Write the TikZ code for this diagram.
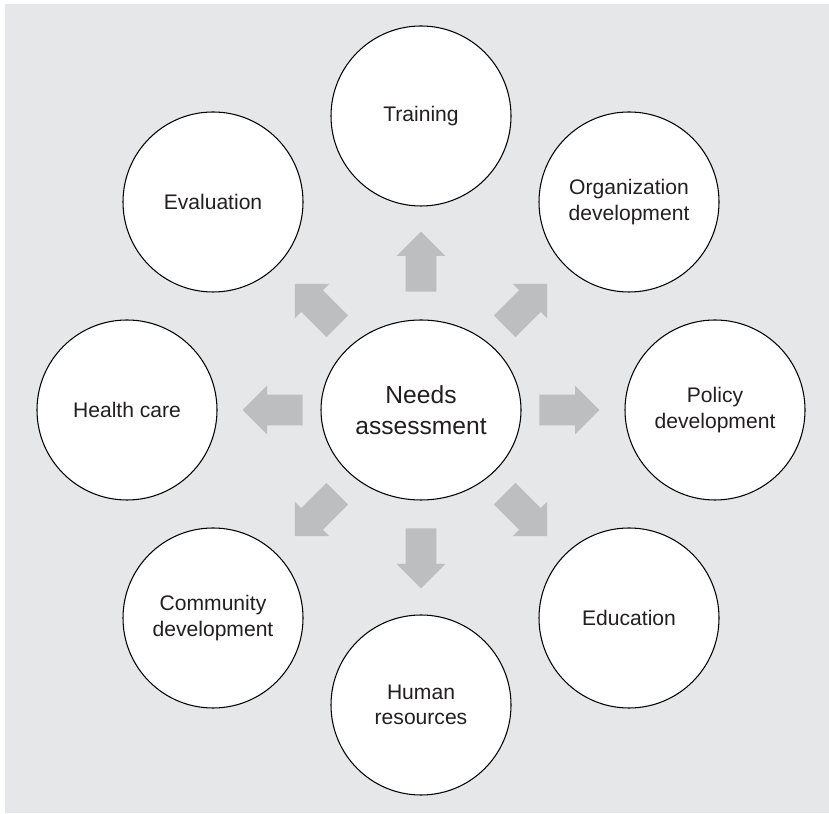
\documentclass[tikz,border=0pt]{standalone}
\usepackage{fontspec}
\setmainfont{Liberation Sans}
\usetikzlibrary{shapes.geometric}
\usetikzlibrary{shapes.arrows}

\definecolor{panelgray}{HTML}{E6E7E8}
\definecolor{arrowgray}{HTML}{BCBEC0}
\definecolor{inkgray}{HTML}{231F20}

\tikzset{
  area/.style={circle,draw=black,fill=white,line width=0.6pt,minimum size=3.6cm,inner sep=0pt,
    align=center,text=inkgray,font=\fontsize{12}{14.5}\selectfont},
  hub/.style={ellipse,draw=black,fill=white,line width=0.6pt,minimum width=4cm,minimum height=3.6cm,
    inner sep=0pt,align=center,text=inkgray,font=\fontsize{14}{17.5}\selectfont},
  flow/.style={single arrow,draw=none,fill=arrowgray,minimum height=1.2cm,
    inner xsep=0pt,inner ysep=0.3cm,single arrow head extend=0.18cm,
    single arrow tip angle=90,anchor=tail}
}

\begin{document}
\begin{tikzpicture}
\useasboundingbox (0,0) rectangle (16.58,16.26);
\fill[panelgray] (0.10,0) rectangle (16.58,16.18);

\node[hub] (need) at (8.42,8.06) {Needs\\assessment};

\node[area] (training) at (8.42,13.94) {Training};
\node[area] (orgdev) at (12.58,12.22) {Organization\\development};
\node[area] (policy) at (14.30,8.06) {Policy\\development};
\node[area] (education) at (12.58,3.90) {Education};
\node[area] (human) at (8.42,2.16) {Human\\resources};
\node[area] (community) at (4.26,3.90) {Community\\development};
\node[area] (health) at (2.54,8.06) {Health care};
\node[area] (evaluation) at (4.26,12.22) {Evaluation};

\node[flow,rotate=90] (toTraining) at ([shift={(90:2.36)}]need.center) {};
\node[flow,rotate=45] (toOrgdev) at ([shift={(45:2.36)}]need.center) {};
\node[flow,rotate=0] (toPolicy) at ([shift={(0:2.36)}]need.center) {};
\node[flow,rotate=-45] (toEducation) at ([shift={(-45:2.36)}]need.center) {};
\node[flow,rotate=-90] (toHuman) at ([shift={(-90:2.36)}]need.center) {};
\node[flow,rotate=-135] (toCommunity) at ([shift={(-135:2.36)}]need.center) {};
\node[flow,rotate=180] (toHealth) at ([shift={(180:2.36)}]need.center) {};
\node[flow,rotate=135] (toEvaluation) at ([shift={(135:2.36)}]need.center) {};

\end{tikzpicture}
\end{document}
